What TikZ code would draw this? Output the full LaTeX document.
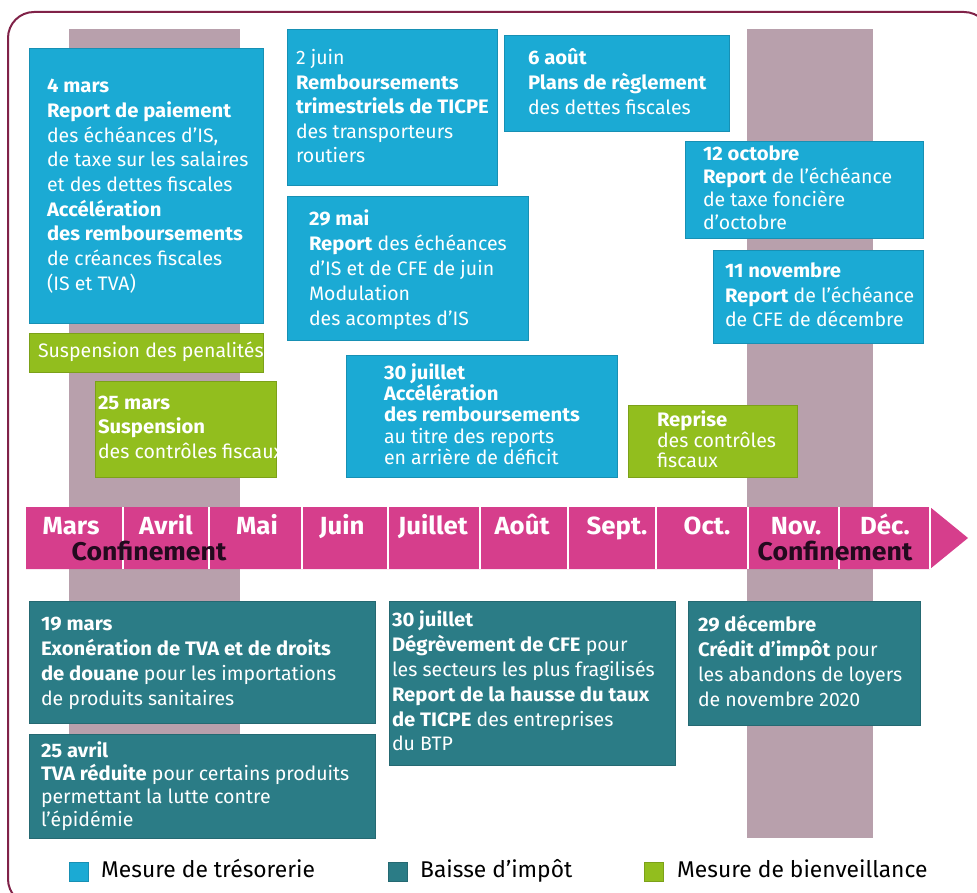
\documentclass[tikz,border=0pt]{standalone}
\usepackage{fontspec}
\setmainfont{Fira Sans}[BoldFeatures={FakeStretch=1.04}]
\definecolor{cyanc}{RGB}{27,170,212}
\definecolor{tealc}{RGB}{43,124,134}
\definecolor{greenc}{RGB}{146,190,30}
\definecolor{pinkc}{RGB}{214,62,140}
\definecolor{bandc}{RGB}{184,160,172}
\definecolor{framec}{RGB}{128,34,72}
\definecolor{confc}{RGB}{35,10,30}
\newcommand\fl{\rule{0pt}{15pt}}
\newcommand\fsz[1]{\fontsize{19.5}{#1}\selectfont}
\newcommand\mkbox[6]{\node[#2, anchor=north west, minimum width={#5-#3}, minimum height={#6-#4}] (#1) at (#3,#4) {};}
\tikzset{
  boxbase/.style={rectangle, inner sep=0pt, outer sep=0pt, line width=0.6pt},
  tres/.style={boxbase, fill=cyanc, draw=cyanc!85!black},
  baisse/.style={boxbase, fill=tealc, draw=tealc!85!black},
  bienv/.style={boxbase, fill=greenc, draw=greenc!85!black},
  txt/.style={anchor=north west, inner sep=0pt, outer sep=0pt, align=left, text=white},
  month/.style={anchor=base, inner sep=0pt, text=white, font=\fontsize{24.8}{28}\selectfont\bfseries},
  conf/.style={anchor=base, inner sep=0pt, text=confc, font=\fontsize{25.6}{28}\selectfont\bfseries},
  legtxt/.style={anchor=base west, inner sep=0pt, text=black, font=\fontsize{22.8}{28}\selectfont},
  sep/.style={white, line width=1.4pt}
}
\begin{document}
\begin{tikzpicture}[x=1pt,y=-1pt]
\useasboundingbox (0,0) rectangle (977,893);
\clip (0,0) rectangle (977,893);
% frame
\draw[framec, line width=2pt, rounded corners=26pt] (8,12) rectangle (990,905);
% confinement bands
\fill[bandc] (69,29) rectangle (240,838);
\fill[bandc] (747,29) rectangle (873,838);

% --- top boxes ---
\mkbox{b4mars}{tres}{29}{48}{263}{323}
\node[txt, font=\fsz{24.7}] (t4mars) at (47,77.7) {\fl\textbf{4 mars}\\\textbf{Report de paiement}\\des échéances d'IS,\\de taxe sur les salaires\\et des dettes fiscales\\\textbf{Accélération}\\\textbf{des remboursements}\\de créances fiscales\\(IS et TVA)};

\mkbox{b2juin}{tres}{287}{29}{497}{185}
\node[txt, font=\fsz{24.5}] (t2juin) at (296,49.5) {\fl 2 juin\\\textbf{Remboursements}\\\textbf{trimestriels de TICPE}\\des transporteurs\\routiers};

\mkbox{b29mai}{tres}{287}{196}{528}{340}
\node[txt, font=\fsz{25}] (t29mai) at (309,210) {\fl\textbf{29 mai}\\\textbf{Report} des échéances\\d'IS et de CFE de juin\\Modulation\\des acomptes d'IS};

\mkbox{b6aout}{tres}{504}{35}{729}{131}
\node[txt, font=\fsz{25}] (t6aout) at (528,48.3) {\fl\textbf{6 août}\\\textbf{Plans de règlement}\\des dettes fiscales};

\mkbox{b12oct}{tres}{685}{141}{923}{238}
\node[txt, font=\fsz{22.9}] (t12oct) at (703,145.7) {\fl\textbf{12 octobre}\\\textbf{Report} de l'échéance\\de taxe foncière\\d'octobre};

\mkbox{b11nov}{tres}{713}{250}{923}{343}
\node[txt, font=\fsz{24.7}] (t11nov) at (725,262.3) {\fl\textbf{11 novembre}\\\textbf{Report} de l'échéance\\de CFE de décembre};

\mkbox{bpen}{bienv}{29}{333}{263}{372}
\node[txt, font=\fsz{24}] (tpen) at (38,342.3) {\fl Suspension des penalités};

\mkbox{b25mars}{bienv}{95}{381}{276}{477}
\node[txt, font=\fsz{24.5}] (t25mars) at (98,394.3) {\fl\textbf{25 mars}\\\textbf{Suspension}\\des contrôles fiscaux};

\mkbox{b30juilA}{tres}{346}{355}{617}{477}
\node[txt, font=\fsz{21.3}] (t30juilA) at (384,363.3) {\fl\textbf{30 juillet}\\\textbf{Accélération}\\\textbf{des remboursements}\\au titre des reports\\en arrière de déficit};

\mkbox{breprise}{bienv}{628}{405}{797}{477}
\node[txt, font=\fsz{20.4}] (treprise) at (657,411) {\fl\textbf{Reprise}\\des contrôles\\fiscaux};

% --- timeline ---
\fill[pinkc] (26,507) -- (930,507) -- (968,538) -- (930,569) -- (26,569) -- cycle;
\foreach \sx in {123,209,302,388,480,568,656,748,839,930}
  \draw[sep] (\sx,507) -- (\sx,569);
\node[month] (mmars) at (71,534) {Mars};
\node[month] (mavr) at (166,534) {Avril};
\node[month] (mmai) at (257,534) {Mai};
\node[month] (mjuin) at (342,534) {Juin};
\node[month] (mjuil) at (433,534) {Juillet};
\node[month] (maout) at (522,534) {Août};
\node[month] (msept) at (617,534) {Sept.};
\node[month] (moct) at (707,534) {Oct.};
\node[month] (mnov) at (796,534) {Nov.};
\node[month] (mdec) at (885,534) {Déc.};
\node[conf] (conf1) at (149,560) {Confinement};
\node[conf] (conf2) at (835,560) {Confinement};

% --- bottom boxes ---
\mkbox{b19mars}{baisse}{29}{601}{375}{723}
\node[txt, font=\fsz{24.8}] (t19mars) at (41,615.7) {\fl\textbf{19 mars}\\\textbf{Exonération de TVA et de droits}\\\textbf{de douane} pour les importations\\de produits sanitaires};

\mkbox{b25avr}{baisse}{29}{734}{375}{838}
\node[txt, font=\fsz{23}] (t25avr) at (41,741.7) {\fl\textbf{25 avril}\\\textbf{TVA réduite} pour certains produits\\permettant la lutte contre\\l'épidémie};

\mkbox{b30juilB}{baisse}{389}{601}{675}{765}
\node[txt, font=\fsz{24.8}] (t30juilB) at (392,611) {\fl\textbf{30 juillet}\\\textbf{Dégrèvement de CFE} pour\\les secteurs les plus fragilisés\\\textbf{Report de la hausse du taux}\\\textbf{de TICPE} des entreprises\\du BTP};

\mkbox{b29dec}{baisse}{688}{601}{920}{725}
\node[txt, font=\fsz{24.8}] (t29dec) at (698,615.7) {\fl\textbf{29 décembre}\\\textbf{Crédit d'impôt} pour\\les abandons de loyers\\de novembre 2020};

% --- legend ---
\node[tres, minimum size=19] (lg1) at (78.5,872) {};
\node[legtxt] (lt1) at (101,877.3) {Mesure de trésorerie};
\node[baisse, minimum size=19] (lg2) at (397.5,872) {};
\node[legtxt] (lt2) at (420,877.3) {Baisse d'impôt};
\node[bienv, minimum size=19] (lg3) at (654,872) {};
\node[legtxt] (lt3) at (677,877.3) {Mesure de bienveillance};
\end{tikzpicture}
\end{document}
